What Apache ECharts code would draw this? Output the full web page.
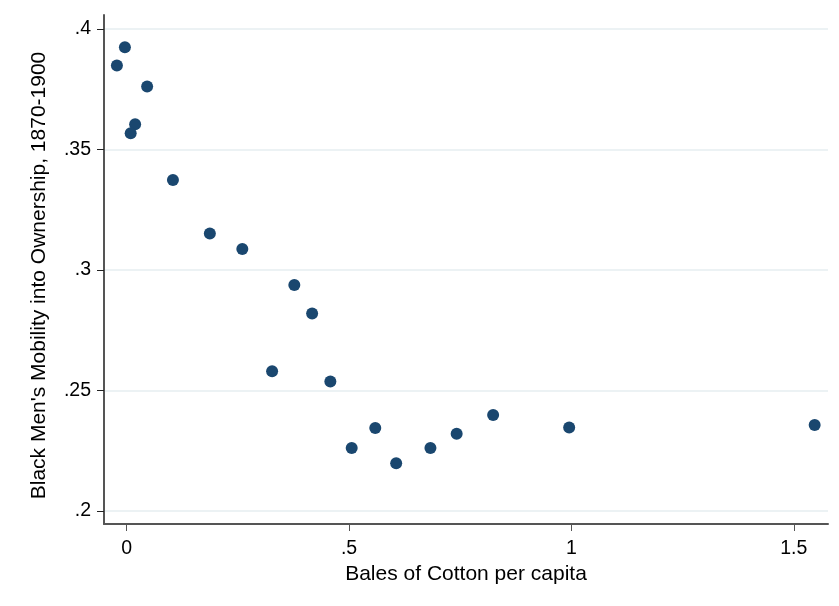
<!DOCTYPE html>
<html>
<head>
<meta charset="utf-8">
<script src="https://cdn.jsdelivr.net/npm/echarts@6/dist/echarts.min.js"></script>
<style>
html,body{margin:0;padding:0;background:#fff;}
#chart{width:839px;height:606px;}
</style>
</head>
<body>
<div id="chart"></div>
<script>
const balesPerCapita = [-0.004, -0.022, 0.046, 0.019, 0.009, 0.104, 0.187, 0.260, 0.377, 0.417, 0.327, 0.458, 0.506, 0.559, 0.606, 0.683, 0.742, 0.824, 0.995, 1.547];
const mobility = [0.3924, 0.3848, 0.3761, 0.3605, 0.3567, 0.3373, 0.3151, 0.3087, 0.2938, 0.2819, 0.2580, 0.2537, 0.2261, 0.2344, 0.2198, 0.2261, 0.2320, 0.2398, 0.2346, 0.2357];
const xTicks = [0, 0.5, 1, 1.5];
const xTickLabels = ['0', '.5', '1', '1.5'];
const yTicks = [0.2, 0.25, 0.3, 0.35, 0.4];
const yTickLabels = ['.2', '.25', '.3', '.35', '.4'];

const points = balesPerCapita.map((x, i) => [x, mobility[i]]);
const font = 'Liberation Sans, Arial, Helvetica, sans-serif';
const axisColor = '#555';

const chart = echarts.init(document.getElementById('chart'), null, {renderer: 'canvas'});
chart.setOption({
  animation: false,
  backgroundColor: '#fff',
  grid: {left: 104, right: 11, top: 15, bottom: 82, containLabel: false},
  xAxis: {
    type: 'value',
    min: -0.051,
    max: 1.577,
    name: 'Bales of Cotton per capita',
    nameLocation: 'middle',
    nameGap: 35,
    nameTextStyle: {fontFamily: font, fontSize: 21, color: '#000'},
    axisLine: {show: true, onZero: false, lineStyle: {color: axisColor, width: 2}},
    axisTick: {show: true, length: 7, lineStyle: {color: axisColor, width: 1}, customValues: xTicks},
    axisLabel: {
      fontFamily: font, fontSize: 19.5, color: '#000', margin: 15,
      customValues: xTicks,
      formatter: v => xTickLabels[xTicks.findIndex(t => Math.abs(t - v) < 1e-9)]
    },
    splitLine: {show: false}
  },
  yAxis: {
    type: 'value',
    min: 0.1946,
    max: 0.4058,
    name: "Black Men's Mobility into Ownership, 1870-1900",
    nameLocation: 'middle',
    nameGap: 54,
    nameTextStyle: {fontFamily: font, fontSize: 21, color: '#000', padding: [0, 12, 0, 0]},
    axisLine: {show: true, onZero: false, lineStyle: {color: axisColor, width: 2}},
    axisTick: {show: true, length: 7, lineStyle: {color: '#222', width: 1}, customValues: yTicks},
    axisLabel: {
      fontFamily: font, fontSize: 19.5, color: '#000', margin: 13, padding: [3, 0, 0, 0],
      customValues: yTicks,
      formatter: v => yTickLabels[yTicks.findIndex(t => Math.abs(t - v) < 1e-9)]
    },
    splitLine: {show: true, lineStyle: {color: '#e6eef1', width: 1.5}}
  },
  series: [{
    type: 'scatter',
    data: points,
    symbol: 'circle',
    symbolSize: 12,
    itemStyle: {color: '#1a476f', opacity: 1},
    emphasis: {disabled: true}
  }]
});
</script>
</body>
</html>
